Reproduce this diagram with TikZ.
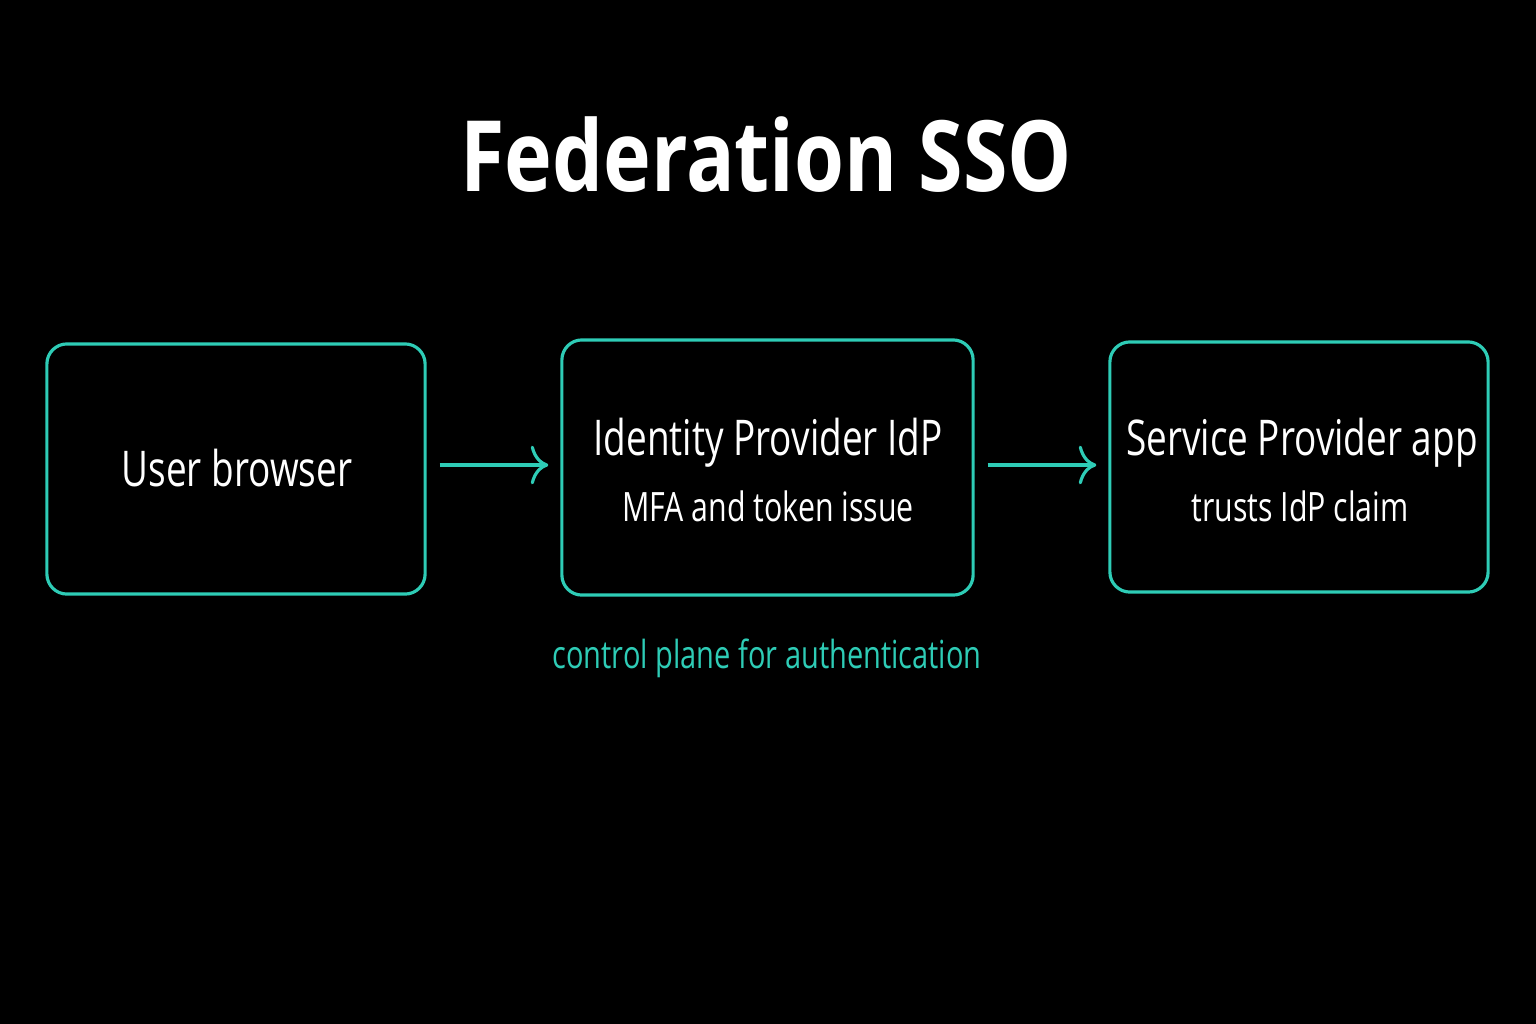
\documentclass[tikz,border=0pt]{standalone}
\usepackage{fontspec}
\setmainfont{Open Sans}
\newfontfamily\narrowfont{Open Sans}[FakeStretch=0.75]
\newfontfamily\titlefont{Open Sans}[FakeStretch=0.82]
\usetikzlibrary{arrows.meta}
\definecolor{teal}{RGB}{46,204,182}
\tikzset{
    box/.style = {draw = teal, line width = 0.9pt, rounded corners = 0.2cm,
        minimum width = #1, minimum height = 2.5cm, inner sep = 0},
    head/.style = {text = white, font = \narrowfont\fontsize{14}{16}\selectfont},
    sub/.style = {text = white, font = \narrowfont\fontsize{11.5}{14}\selectfont},
    flow/.style = {draw = teal, line width = 0.9pt, -{To[length=5pt,width=11pt]},
        shorten < = 0.13cm, shorten > = 0.12cm}
}
\begin{document}
\begin{tikzpicture}[x = 0.01cm, y = -0.01cm]
    \fill[black] (0, 0) rectangle (1536, 1024);
    \useasboundingbox (0, 0) rectangle (1536, 1024);

    \node[text = white, font = \titlefont\fontsize{28}{34}\bfseries\selectfont] (title) at (766, 155) {Federation SSO};

    \node[box = 3.78cm] (user) at (236, 469) {};
    \node[box = 4.11cm, minimum height = 2.55cm] (idp) at (767.5, 467.5) {};
    \node[box = 3.78cm] (sp) at (1299, 467) {};

    \node[head] (userT) at (237, 468) {User browser};
    \node[head] (idpT) at (768, 443) {Identity Provider IdP};
    \node[sub] (idpS) at (768, 506) {MFA and token issue};
    \node[head] (spT) at (1302, 443) {Service Provider app};
    \node[sub] (spS) at (1300, 506) {trusts IdP claim};

    \node[text = teal, font = \narrowfont\fontsize{11}{13}\selectfont] (note) at (767, 658) {control plane for authentication};

    \draw[flow] (user.east |- 0, 465) -- (idp.west |- 0, 465);
    \draw[flow] (idp.east |- 0, 465) -- (sp.west |- 0, 465);
\end{tikzpicture}
\end{document}
